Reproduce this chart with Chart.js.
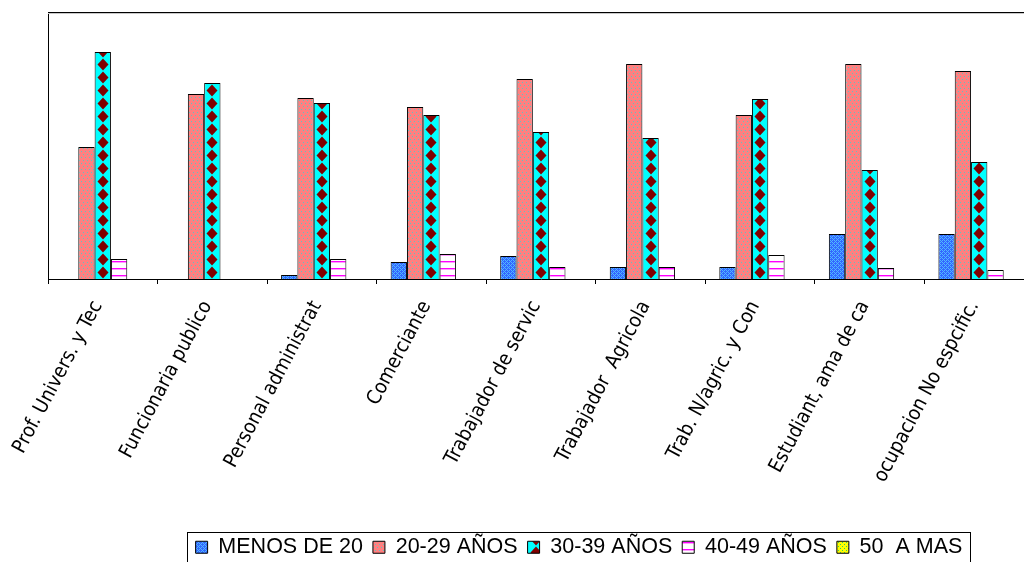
<!DOCTYPE html>
<html>
<head>
<meta charset="utf-8">
<script src="https://cdn.jsdelivr.net/npm/chart.js@4.4.1/dist/chart.umd.min.js"></script>
<style>
  html, body { margin: 0; padding: 0; background: #fff; overflow: hidden; width: 1024px; height: 562px; }
  #wrap { position: absolute; left: 0; top: 0; width: 1158px; height: 568px; }
</style>
</head>
<body>
<div id="wrap"><canvas id="chart" width="1158" height="568"></canvas></div>
<script>
const categories = [
  'Prof. Univers. y Tec', 'Funcionaria publico', 'Personal administrat',
  'Comerciante', 'Trabajador de servic', 'Trabajador  Agricola',
  'Trab. N/agric. y Con', 'Estudiant, ama de ca', 'ocupacion No espcific.'
];
const seriesNames = ['MENOS DE 20', '20-29 AÑOS', '30-39 AÑOS', '40-49 AÑOS', '50  A MAS'];

// values (no y labels in the original, units are bar heights)
const menos20  = [0, 0, 4, 17, 23, 12, 12, 45, 45];
const a20a29   = [132, 185, 181, 172, 200, 215, 164, 215, 208];
const a30a39   = [227, 196, 176, 164, 147, 141, 180, 109, 117];
const a40a49   = [20, 0, 20, 25, 12, 12, 24, 11, 9];
const a50mas   = [0, 0, 0, 0, 0, 0, 0, 0, 0];
const yMax = 267;

const CAT_PCT = 0.745;

function tile(w, h, draw) {
  const c = document.createElement('canvas');
  c.width = w; c.height = h;
  draw(c.getContext('2d'), w, h);
  return c;
}

const tiles = [
  tile(4, 4, g => {
    g.fillStyle = '#3366ff'; g.fillRect(0, 0, 4, 4);
    g.fillStyle = '#4fb8ff';
    [[0,0],[1,1],[2,2],[3,3],[3,1],[1,3]].forEach(p => g.fillRect(p[0], p[1], 1, 1));
  }),
  tile(4, 6, g => {
    g.fillStyle = '#ff8080'; g.fillRect(0, 0, 4, 6);
    g.fillStyle = '#5fc4c4';
    g.fillRect(1, 1, 1, 1); g.fillRect(3, 4, 1, 1);
  }),
  tile(16, 13, g => {
    g.fillStyle = '#00ffff'; g.fillRect(0, 0, 16, 13);
    g.fillStyle = '#800000';
    g.beginPath();
    g.moveTo(8, 0.5); g.lineTo(13.5, 6.5); g.lineTo(8, 12.5); g.lineTo(2.5, 6.5);
    g.closePath(); g.fill();
  }),
  tile(1, 7, g => {
    g.fillStyle = '#ffffff'; g.fillRect(0, 0, 1, 7);
    g.fillStyle = '#ff00ff'; g.fillRect(0, 3, 1, 1);
    g.fillStyle = '#ff9cff'; g.fillRect(0, 4, 1, 1);
  }),
  tile(4, 4, g => {
    g.fillStyle = '#ffff00'; g.fillRect(0, 0, 4, 4);
    g.fillStyle = '#33cc66'; g.fillRect(0, 0, 1, 1); g.fillRect(2, 2, 1, 1);
  })
];

function fillFor(k) {
  return (c) => c.chart.ctx.createPattern(tiles[k], 'repeat');
}

const values = [menos20, a20a29, a30a39, a40a49, a50mas];

// align every bar's pattern to the bar itself (like Excel fills)
const alignPlugin = {
  id: 'alignFill',
  beforeDatasetsDraw(chart) {
    chart.data.datasets.forEach((ds, di) => {
      const meta = chart.getDatasetMeta(di);
      meta.data.forEach(el => {
        if (!el.options || Object.isFrozen(el.options)) return;
        const pat = chart.ctx.createPattern(tiles[di], 'repeat');
        pat.setTransform(new DOMMatrix([1, 0, 0, 1, Math.round(el.x - 8), Math.round(el.base)]));
        el.options.backgroundColor = pat;
      });
    });
  }
};

const framePlugin = {
  id: 'frame',
  afterDraw(chart) {
    const { ctx, chartArea: a } = chart;
    ctx.save();
    ctx.strokeStyle = '#000';
    ctx.lineWidth = 1;
    ctx.beginPath();
    ctx.moveTo(a.left, a.top + 0.5);
    ctx.lineTo(a.right + 20, a.top + 0.5);
    ctx.stroke();
    ctx.strokeStyle = '#c8c8c8';
    ctx.beginPath();
    ctx.moveTo(a.left, a.top + 1.5);
    ctx.lineTo(a.right + 20, a.top + 1.5);
    ctx.stroke();

    const hb = chart.legend.legendHitBoxes;
    if (hb && hb.length) {
      const first = hb[0], last = hb[hb.length - 1];
      const l = Math.round(first.left - 9) + 0.5;
      const r = Math.round(last.left + last.width + 8) + 0.5;
      const t = Math.round(first.top - 5) + 0.5;
      ctx.strokeStyle = '#000';
      ctx.strokeRect(l, t, r - l, 60);
    }
    ctx.restore();
  }
};

new Chart(document.getElementById('chart'), {
  type: 'bar',
  data: {
    labels: categories,
    datasets: values.map((v, i) => ({
      label: seriesNames[i],
      data: v,
      backgroundColor: fillFor(i),
      borderColor: '#000',
      borderWidth: 1,
      categoryPercentage: CAT_PCT,
      barPercentage: 1
    }))
  },
  options: {
    responsive: false,
    devicePixelRatio: 1,
    animation: false,
    layout: { padding: { top: 12, left: 0, right: 0, bottom: 0 } },
    scales: {
      x: {
        offset: true,
        grid: { display: true, drawOnChartArea: false, drawTicks: true, tickLength: 5, color: '#000', offset: true },
        border: { display: true, color: '#000', width: 1 },
        ticks: {
          color: '#000',
          font: { family: "'DejaVu Sans Condensed', 'DejaVu Sans'", size: 20 },
          minRotation: 62, maxRotation: 62,
          autoSkip: false,
          padding: 13,
          labelOffset: -5
        },
        afterFit(s) { s.height = 247.5; }
      },
      y: {
        min: 0, max: yMax,
        ticks: { display: false },
        grid: { display: false },
        border: { display: true, color: '#000', width: 1 },
        afterFit(s) { s.width = 48; }
      },
      y2: {
        position: 'right',
        display: true,
        ticks: { display: false },
        grid: { display: false },
        border: { display: false },
        afterFit(s) { s.width = 124; }
      }
    },
    plugins: {
      legend: {
        position: 'bottom',
        labels: {
          color: '#000',
          boxWidth: 12,
          boxHeight: 12,
          padding: 10,
          font: { family: "'Liberation Sans Narrow', 'Liberation Sans', Arial, sans-serif", size: 21.5 }
        }
      },
      tooltip: { enabled: false }
    }
  },
  plugins: [alignPlugin, framePlugin]
});
</script>
</body>
</html>
